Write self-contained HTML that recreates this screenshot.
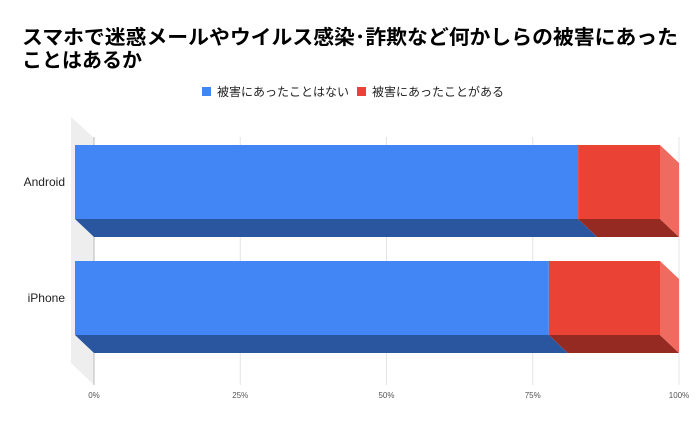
<!DOCTYPE html>
<html><head><meta charset="utf-8"><style>
body{margin:0;background:#fff;}
svg{display:block;font-family:"Liberation Sans","Noto Sans CJK JP",sans-serif;}
</style></head><body>
<svg id="chart" width="700" height="421" viewBox="0 0 700 421">
<rect width="700" height="421" fill="#fff"/>
<text x="22" y="44" font-size="20" font-weight="bold" fill="#000" textLength="656" lengthAdjust="spacingAndGlyphs">スマホで迷惑メールやウイルス感染･詐欺など何かしらの被害にあった</text>
<text x="22" y="67" font-size="20" font-weight="bold" fill="#000">ことはあるか</text>
<g>
<g><rect x="202" y="87" width="9" height="9" fill="#4285f4"/><text x="217" y="96" font-size="12" fill="#222">被害にあったことはない</text></g>
<g><rect x="357" y="87" width="9" height="9" fill="#ea4335"/><text x="372" y="96" font-size="12" fill="#222">被害にあったことがある</text></g>
</g>
<polygon points="71,117 94,138 94,385 71,363" fill="#eeeeee"/>
<g id="grid"></g>
<g id="bars"></g>
<g id="labels"></g>
</svg>
<script>
const categories = ["Android", "iPhone"];
const noDamage = [86, 81];
const damaged = [14, 19];
const ticks = ["0%", "25%", "50%", "75%", "100%"];
const tickVals = [0, 25, 50, 75, 100];

const NS = "http://www.w3.org/2000/svg";
const x0 = 94, x1 = 679, dx = 19, dy = 18;
const X = v => x0 + (v / 100) * (x1 - x0);
const rowTop = [163, 279], barH = 74;
function mk(tag, attrs, parent) {
  const e = document.createElementNS(NS, tag);
  for (const k in attrs) e.setAttribute(k, attrs[k]);
  parent.appendChild(e);
  return e;
}
const grid = document.getElementById("grid");
const bars = document.getElementById("bars");
const labels = document.getElementById("labels");
tickVals.forEach((v, i) => {
  const l = mk("line", {x1: X(v), x2: X(v), y1: 137, y2: 385, stroke: i === 0 ? "#bbb" : "#e4e4e4", "stroke-width": 1}, grid);
  
  
  const t = mk("text", {x: X(v), y: 398, "font-size": 8, fill: "#555", "text-anchor": "middle"}, labels);
  t.textContent = ticks[i];
  
  
});
categories.forEach((c, i) => {
  const bt = rowTop[i];
  const ft = bt - dy, fb = bt - dy + barH;
  const segs = [[0, noDamage[i], "#4285f4", "#2a56a0", "#6aa0f7"], [noDamage[i], noDamage[i] + damaged[i], "#ea4335", "#952a22", "#ef6a5f"]];
  segs.forEach((s, j) => {
    const a = X(s[0]) - dx, b = X(s[1]) - dx;
    const g = mk("g", {}, bars);
    
    
    mk("polygon", {points: `${a},${fb} ${b},${fb} ${b + dx},${fb + dy} ${a + dx},${fb + dy}`, fill: s[3]}, g);
    mk("rect", {x: a, y: ft, width: b - a, height: barH, fill: s[2]}, g);
    if (j === 1) mk("polygon", {points: `${b},${ft} ${b + dx},${ft + dy} ${b + dx},${fb + dy} ${b},${fb}`, fill: s[4]}, g);
  });
  const t = mk("text", {x: 65, y: ft + barH / 2 + 4, "font-size": 12, fill: "#222", "text-anchor": "end"}, labels);
  t.textContent = c;
  
  
});
</script>
</body></html>
